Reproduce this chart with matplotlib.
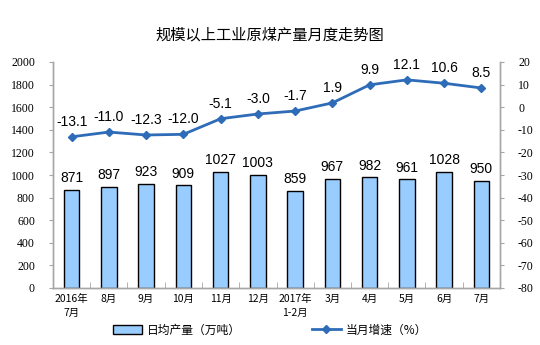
import matplotlib
matplotlib.use("Agg")
import matplotlib.pyplot as plt
import numpy as np

categories = ["2016年\n7月", "8月", "9月", "10月", "11月", "12月", "2017年\n1-2月",
              "3月", "4月", "5月", "6月", "7月"]
daily_output = [871, 897, 923, 909, 1027, 1003, 859, 967, 982, 961, 1028, 950]
growth_rate = [-13.1, -11.0, -12.3, -12.0, -5.1, -3.0, -1.7, 1.9, 9.9, 12.1, 10.6, 8.5]
left_ticks = list(range(0, 2001, 200))
right_ticks = list(range(-80, 21, 10))

cjk = ["Noto Sans CJK SC", "DejaVu Sans"]
serif = "Liberation Serif"
sans = "Liberation Sans"
bar_color = "#99CCFF"
line_color = "#2E6CB8"
axis_gray = "#A6A6A6"

fig = plt.figure(figsize=(5.4, 3.45), dpi=100)
ax = fig.add_axes([53 / 540, 1 - 288 / 345, (500 - 53) / 540, (288 - 62) / 345])
ax2 = ax.twinx()

x = np.arange(len(categories))
ax.bar(x, daily_output, width=0.42, color=bar_color, edgecolor="black", linewidth=1.0, zorder=2)
for xi, v in zip(x, daily_output):
    ax.text(xi, v + 40, f"{v}", ha="center", va="bottom", fontsize=10, family=sans)

ax2.plot(x, growth_rate, color=line_color, linewidth=2, marker="D", markersize=4.5, zorder=3)
for xi, v in zip(x, growth_rate):
    ax2.text(xi, v + 3.5, f"{v:.1f}", ha="center", va="bottom", fontsize=10, family=sans)

ax.set_xlim(-0.5, len(categories) - 0.5)
ax.set_ylim(0, 2000)
ax2.set_ylim(-80, 20)
ax.set_yticks(left_ticks)
ax2.set_yticks(right_ticks)
ax.set_yticklabels([str(t) for t in left_ticks], family=serif, fontsize=8.5)
ax2.set_yticklabels([str(t) for t in right_ticks], family=serif, fontsize=8.5)

ax.set_xticks(x)
ax.set_xticklabels(categories, family=cjk, fontsize=7.5, linespacing=1.5)
ax.set_xticks(np.arange(-0.5, len(categories), 1), minor=True)
ax.tick_params(axis="x", which="major", length=0, pad=4)
ax.tick_params(axis="x", which="minor", length=4, direction="in", color=axis_gray)
ax.tick_params(axis="y", length=3, color=axis_gray, pad=10)
ax2.tick_params(axis="y", length=3, color=axis_gray, pad=10)

for a in (ax, ax2):
    for side in ("top",):
        a.spines[side].set_visible(False)
    for side in ("left", "right", "bottom"):
        a.spines[side].set_color(axis_gray)
        a.spines[side].set_linewidth(1)

fig.text(0.5, 1 - 35 / 345, "规模以上工业原煤产量月度走势图", ha="center", va="center",
         fontsize=11, family=cjk)

from matplotlib.patches import Patch
from matplotlib.lines import Line2D
handles = [Patch(facecolor=bar_color, edgecolor="black", linewidth=1.0),
           Line2D([0], [0], color=line_color, linewidth=2, marker="D", markersize=4)]
labels = ["日均产量（万吨）", "当月增速（%）"]
fig.legend(handles, labels, loc="center", bbox_to_anchor=(0.5, 1 - 330 / 345), ncol=2,
           frameon=False, prop={"family": cjk, "size": 8.5}, columnspacing=6,
           handlelength=2.5, handletextpad=0.4)

fig.savefig("out.png", dpi=100, facecolor="white")
